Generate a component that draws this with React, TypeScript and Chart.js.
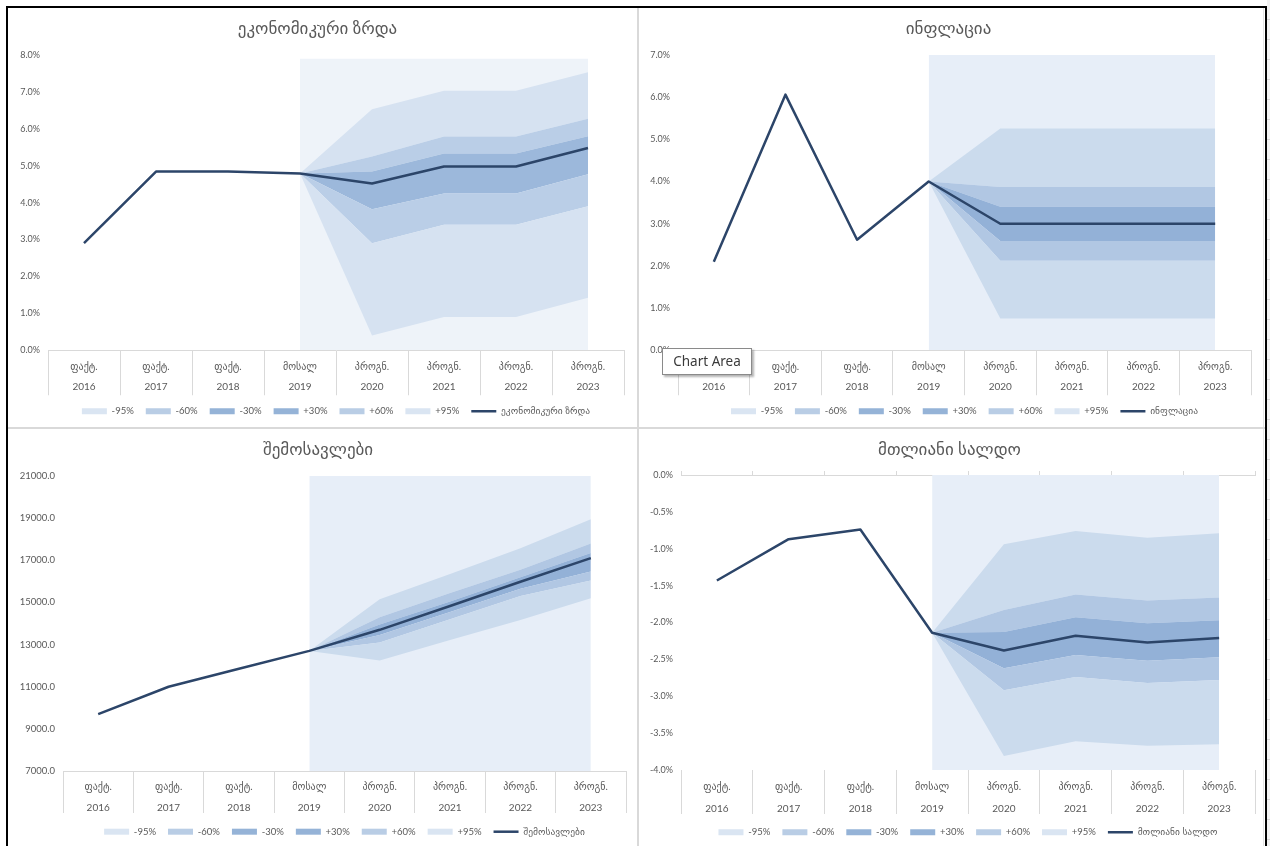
import React, { useEffect, useRef } from 'react';
import { Chart, registerables } from 'chart.js';

Chart.register(...registerables);

// ---------- shared category data ----------
const categoryKinds = ['ფაქტ.', 'ფაქტ.', 'ფაქტ.', 'მოსალ', 'პროგნ.', 'პროგნ.', 'პროგნ.', 'პროგნ.'];
const years = ['2016', '2017', '2018', '2019', '2020', '2021', '2022', '2023'];
const bandLabels = ['-95%', '-60%', '-30%', '+30%', '+60%', '+95%'];

// ---------- economic growth (%) ----------
const growthTitle = 'ეკონომიკური ზრდა';
const growthLine = [2.9, 4.84, 4.84, 4.79, 4.52, 4.98, 4.98, 5.48];
const growthLower95 = [null, null, null, 4.79, 0.4, 0.9, 0.9, 1.42];
const growthLower60 = [null, null, null, 4.79, 2.9, 3.4, 3.4, 3.9];
const growthLower30 = [null, null, null, 4.79, 3.82, 4.25, 4.25, 4.77];
const growthUpper30 = [null, null, null, 4.79, 4.84, 5.33, 5.33, 5.8];
const growthUpper60 = [null, null, null, 4.79, 5.25, 5.79, 5.79, 6.27];
const growthUpper95 = [null, null, null, 4.79, 6.53, 7.03, 7.03, 7.53];
const growthArea = [null, null, null, 7.9, 7.9, 7.9, 7.9, 7.9];

// ---------- inflation (%) ----------
const inflationTitle = 'ინფლაცია';
const inflationLine = [2.1, 6.06, 2.62, 4.0, 3.0, 3.0, 3.0, 3.0];
const inflationLower95 = [null, null, null, 4.0, 0.75, 0.75, 0.75, 0.75];
const inflationLower60 = [null, null, null, 4.0, 2.12, 2.12, 2.12, 2.12];
const inflationLower30 = [null, null, null, 4.0, 2.59, 2.59, 2.59, 2.59];
const inflationUpper30 = [null, null, null, 4.0, 3.4, 3.4, 3.4, 3.4];
const inflationUpper60 = [null, null, null, 4.0, 3.87, 3.87, 3.87, 3.87];
const inflationUpper95 = [null, null, null, 4.0, 5.26, 5.26, 5.26, 5.26];
const inflationArea = [null, null, null, 7.0, 7.0, 7.0, 7.0, 7.0];

// ---------- revenues ----------
const revenueTitle = 'შემოსავლები';
const revenueLine = [9700, 11000, 11850, 12700, 13700, 14830, 15980, 17100];
const revenueLower95 = [null, null, null, 12700, 12240, 13220, 14170, 15200];
const revenueLower60 = [null, null, null, 12700, 13100, 14200, 15300, 16040];
const revenueLower30 = [null, null, null, 12700, 13450, 14550, 15650, 16470];
const revenueUpper30 = [null, null, null, 12700, 13950, 15050, 16200, 17350];
const revenueUpper60 = [null, null, null, 12700, 14300, 15450, 16550, 17800];
const revenueUpper95 = [null, null, null, 12700, 15150, 16350, 17570, 18950];
const revenueArea = [null, null, null, 21000, 21000, 21000, 21000, 21000];

// ---------- overall balance (%) ----------
const balanceTitle = 'მთლიანი სალდო';
const balanceLine = [-1.43, -0.87, -0.74, -2.14, -2.38, -2.18, -2.27, -2.21];
const balanceLower95 = [null, null, null, -2.14, -3.81, -3.61, -3.67, -3.65];
const balanceLower60 = [null, null, null, -2.14, -2.92, -2.74, -2.82, -2.78];
const balanceLower30 = [null, null, null, -2.14, -2.62, -2.44, -2.52, -2.47];
const balanceUpper30 = [null, null, null, -2.14, -2.13, -1.93, -2.01, -1.97];
const balanceUpper60 = [null, null, null, -2.14, -1.83, -1.62, -1.70, -1.66];
const balanceUpper95 = [null, null, null, -2.14, -0.94, -0.76, -0.85, -0.79];
const balanceArea = [null, null, null, 0, 0, 0, 0, 0];

// ---------- styles ----------
const FONT = 'Lato, "DejaVu Sans", sans-serif';
const TEXT = '#595959';
const GRID = '#d9d9d9';
const LINE_COLOR = '#2c4569';
const legendColors = ['#dae5f2', '#b9cde5', '#95b3d7', '#95b3d7', '#b9cde5', '#dae5f2'];
const palLight = { bg: '#eef3f9', b95: '#d6e2f1', b60: '#bacee7', b30: '#9cb8db' };
const palStd = { bg: '#e7eef8', b95: '#cbdbed', b60: '#b1c7e3', b30: '#93b1d7' };

const pct = (v: number) => Number(v).toFixed(1) + '%';
const num = (v: number) => Number(v).toFixed(1);

type Lay = {
  W: number; H: number; L: number; Wy: number; R: number;
  titleY: number; chartTop: number; chartBottom: number;
  rowY1: number; rowGap: number; tickLen: number; legendY: number;
};

type Spec = {
  title: string;
  line: (number | null)[];
  l95: (number | null)[]; l60: (number | null)[]; l30: (number | null)[];
  u30: (number | null)[]; u60: (number | null)[]; u95: (number | null)[];
  area: (number | null)[];
  yMin: number; yMax: number; yStep: number; fmt: (v: number) => string; yFont: number;
  pal: { bg: string; b95: string; b60: string; b30: string };
  lay: Lay; topAxis: boolean; bottomBorder: boolean;
};

const specs: { spec: Spec; left: number; top: number }[] = [
  {
    left: 9, top: 9,
    spec: {
      title: growthTitle, line: growthLine, l95: growthLower95, l60: growthLower60, l30: growthLower30,
      u30: growthUpper30, u60: growthUpper60, u95: growthUpper95, area: growthArea,
      yMin: 0, yMax: 8, yStep: 1, fmt: pct, yFont: 9, pal: palLight,
      lay: { W: 627, H: 417, L: 2, Wy: 37, R: 12, titleY: 20, chartTop: 46, chartBottom: 339, rowY1: 356, rowGap: 20, tickLen: 45, legendY: 400 },
      topAxis: false, bottomBorder: true,
    },
  },
  {
    left: 646, top: 9,
    spec: {
      title: inflationTitle, line: inflationLine, l95: inflationLower95, l60: inflationLower60, l30: inflationLower30,
      u30: inflationUpper30, u60: inflationUpper60, u95: inflationUpper95, area: inflationArea,
      yMin: 0, yMax: 7, yStep: 1, fmt: pct, yFont: 9, pal: palStd,
      lay: { W: 617, H: 417, L: 0, Wy: 32, R: 12, titleY: 20, chartTop: 46, chartBottom: 339, rowY1: 356, rowGap: 20, tickLen: 45, legendY: 400 },
      topAxis: false, bottomBorder: true,
    },
  },
  {
    left: 9, top: 429,
    spec: {
      title: revenueTitle, line: revenueLine, l95: revenueLower95, l60: revenueLower60, l30: revenueLower30,
      u30: revenueUpper30, u60: revenueUpper60, u95: revenueUpper95, area: revenueArea,
      yMin: 7000, yMax: 21000, yStep: 2000, fmt: num, yFont: 9.5, pal: palStd,
      lay: { W: 627, H: 417, L: 1, Wy: 53, R: 10, titleY: 21, chartTop: 47, chartBottom: 342, rowY1: 357.7, rowGap: 21.5, tickLen: 42, legendY: 402.7 },
      topAxis: false, bottomBorder: true,
    },
  },
  {
    left: 644, top: 429,
    spec: {
      title: balanceTitle, line: balanceLine, l95: balanceLower95, l60: balanceLower60, l30: balanceLower30,
      u30: balanceUpper30, u60: balanceUpper60, u95: balanceUpper95, area: balanceArea,
      yMin: -4, yMax: 0, yStep: 0.5, fmt: pct, yFont: 9, pal: palStd,
      lay: { W: 619, H: 417, L: 0, Wy: 37, R: 8, titleY: 21, chartTop: 46, chartBottom: 341, rowY1: 357.7, rowGap: 21.6, tickLen: 44, legendY: 403.3 },
      topAxis: true, bottomBorder: false,
    },
  },
];

function FanChart({ spec, left, top }: { spec: Spec; left: number; top: number }) {
  const ref = useRef<HTMLCanvasElement | null>(null);

  useEffect(() => {
    if (!ref.current) return;
    const s = spec;
    const lay = s.lay;
    const titleSize = 17;
    const titleLH = titleSize * 1.2;
    const xFont = 10;
    const legFont = 9.5;
    const legPad = 12;
    const tickPad = lay.rowY1 - lay.chartBottom - lay.tickLen - lay.rowGap / 2;
    const Hx = lay.legendY - lay.chartBottom - legPad - legFont / 2;
    const Hl = lay.H - lay.chartBottom - Hx;

    const labels = categoryKinds.map((k, i) => [k, years[i]]);
    const band = (data: (number | null)[], color: string, fill: any) => ({
      label: 'band',
      data,
      backgroundColor: color,
      borderColor: 'rgba(0,0,0,0)',
      borderWidth: 0,
      pointRadius: 0,
      pointHoverRadius: 0,
      fill,
      order: 2,
      tension: 0,
    });

    const datasets: any[] = [
      {
        label: 'area',
        data: s.area,
        backgroundColor: s.pal.bg,
        borderColor: 'rgba(0,0,0,0)',
        borderWidth: 0,
        pointRadius: 0,
        pointHoverRadius: 0,
        fill: 'start',
        order: 3,
        tension: 0,
      },
      band(s.l95, 'rgba(0,0,0,0)', false),
      band(s.l60, s.pal.b95, '-1'),
      band(s.l30, s.pal.b60, '-1'),
      band(s.u30, s.pal.b30, '-1'),
      band(s.u60, s.pal.b60, '-1'),
      band(s.u95, s.pal.b95, '-1'),
      {
        label: s.title,
        data: s.line,
        borderColor: LINE_COLOR,
        backgroundColor: LINE_COLOR,
        borderWidth: 2.5,
        pointRadius: 0,
        pointHoverRadius: 0,
        fill: false,
        order: 0,
        tension: 0,
        borderJoinStyle: 'round',
      },
    ];

    const scales: any = {
      x: {
        type: 'category',
        offset: true,
        grid: {
          display: true,
          offset: true,
          drawOnChartArea: false,
          drawTicks: true,
          tickLength: lay.tickLen,
          color: GRID,
          lineWidth: 1,
        },
        border: { display: s.bottomBorder, color: GRID, width: 1 },
        ticks: {
          autoSkip: false,
          maxRotation: 0,
          minRotation: 0,
          padding: tickPad,
          color: TEXT,
          font: { family: FONT, size: xFont, lineHeight: lay.rowGap / xFont },
        },
        afterFit: (sc: any) => { sc.height = Hx; },
      },
      y: {
        min: s.yMin,
        max: s.yMax,
        grid: { display: false, drawTicks: false, tickLength: 0 },
        border: { display: false },
        ticks: {
          stepSize: s.yStep,
          padding: 8,
          color: TEXT,
          font: { family: FONT, size: s.yFont },
          callback: (v: any) => s.fmt(Number(v)),
        },
        afterFit: (sc: any) => { sc.width = lay.Wy; },
      },
    };
    if (s.topAxis) {
      scales.x2 = {
        type: 'category',
        position: 'top',
        offset: true,
        grid: { display: true, offset: true, drawOnChartArea: false, drawTicks: true, tickLength: 4, color: GRID, lineWidth: 1 },
        border: { display: true, color: GRID, width: 1 },
        ticks: { display: false },
        afterFit: (sc: any) => { sc.height = 0; },
      };
    }

    const chart = new Chart(ref.current, {
      type: 'line',
      data: { labels, datasets },
      options: {
        animation: false,
        responsive: false,
        maintainAspectRatio: false,
        events: [],
        layout: { padding: { left: lay.L, right: lay.R, top: 0, bottom: 0 } },
        plugins: {
          tooltip: { enabled: false },
          title: {
            display: true,
            text: s.title,
            color: TEXT,
            font: { family: FONT, size: titleSize, weight: 'normal', lineHeight: 1.2 },
            padding: { top: lay.titleY - titleLH / 2, bottom: lay.chartTop - lay.titleY - titleLH / 2 },
          },
          legend: {
            display: true,
            position: 'bottom',
            fullSize: false,
            maxHeight: Hl,
            labels: {
              usePointStyle: true,
              pointStyleWidth: 25,
              boxHeight: 6,
              padding: legPad,
              color: TEXT,
              font: { family: FONT, size: legFont },
              generateLabels: () => {
                const items: any[] = bandLabels.map((t, i) => ({
                  text: t,
                  fillStyle: legendColors[i],
                  strokeStyle: legendColors[i],
                  lineWidth: 0,
                  pointStyle: 'rect',
                  hidden: false,
                  fontColor: TEXT,
                  datasetIndex: i + 1,
                }));
                items.push({
                  text: s.title,
                  fillStyle: LINE_COLOR,
                  strokeStyle: LINE_COLOR,
                  lineWidth: 2.5,
                  pointStyle: 'line',
                  hidden: false,
                  fontColor: TEXT,
                  datasetIndex: 7,
                });
                return items;
              },
            },
          },
        },
        scales,
      } as any,
    });
    return () => chart.destroy();
  }, [spec]);

  return (
    <canvas
      ref={ref}
      width={spec.lay.W}
      height={spec.lay.H}
      style={{ position: 'absolute', left, top, width: spec.lay.W, height: spec.lay.H }}
    />
  );
}

export default function App() {
  return (
    <div style={{ position: 'absolute', left: 0, top: 0, width: 1270, height: 846, background: '#ffffff', overflow: 'hidden' }}>
      {specs.map((c, i) => (
        <FanChart key={i} spec={c.spec} left={c.left} top={c.top} />
      ))}
      {/* frame and dividers */}
      <div style={{ position: 'absolute', left: 6, top: 6, width: 1261, height: 2, background: '#000' }} />
      <div style={{ position: 'absolute', left: 6, top: 6, width: 2, height: 840, background: '#000' }} />
      <div style={{ position: 'absolute', left: 1265, top: 6, width: 2, height: 840, background: '#000' }} />
      <div style={{ position: 'absolute', left: 1263, top: 8, width: 1, height: 838, background: '#e3e3e3' }} />
      <div
        style={{
          position: 'absolute', left: 1267, top: 0, width: 3, height: 846, background: '#f2f2f2',
          backgroundImage: 'repeating-linear-gradient(to bottom, #f2f2f2 0px, #f2f2f2 19px, #d4d4d4 19px, #d4d4d4 20px)',
        }}
      />
      <div style={{ position: 'absolute', left: 637, top: 8, width: 2, height: 838, background: GRID }} />
      <div style={{ position: 'absolute', left: 8, top: 427, width: 1257, height: 2, background: GRID }} />
      {/* Excel hover label */}
      <div
        style={{
          position: 'absolute', left: 662, top: 348, width: 88, height: 25,
          background: '#fff', border: '1px solid #8a8a8a', boxShadow: '2px 2px 2px rgba(0,0,0,0.3)',
          fontFamily: '"Noto Sans", "Open Sans", sans-serif', fontSize: 13.5, color: '#3b3b3b',
          lineHeight: '25px', textAlign: 'center', whiteSpace: 'nowrap',
        }}
      >
        Chart Area
      </div>
    </div>
  );
}
